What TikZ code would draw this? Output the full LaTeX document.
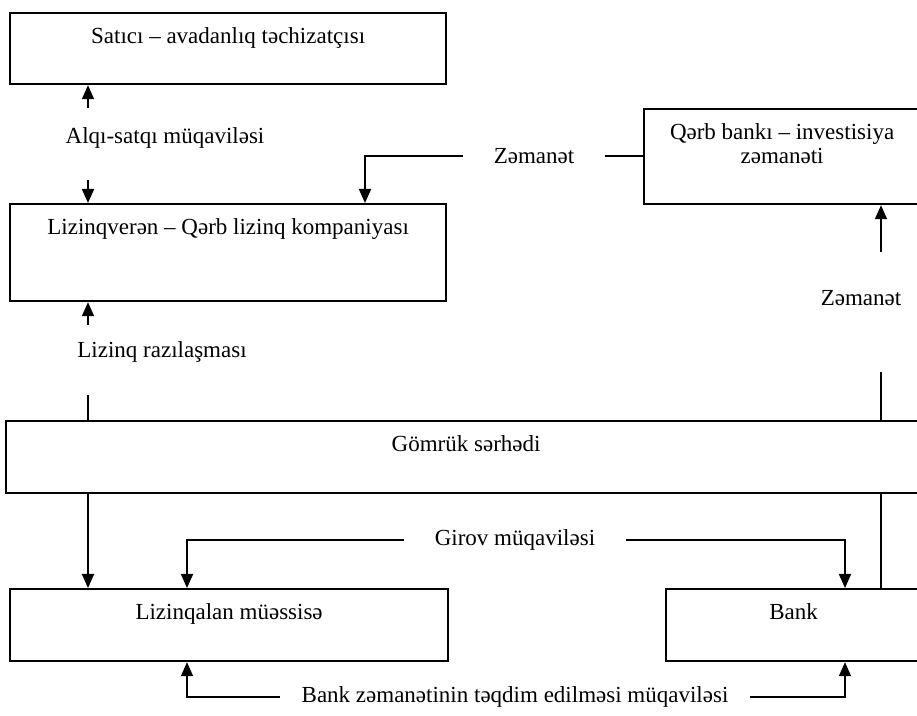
\documentclass[tikz,border=0pt]{standalone}
\usepackage{fontspec}
\setmainfont{Liberation Serif}
\usetikzlibrary{arrows.meta, positioning}

\begin{document}
\begin{tikzpicture}[x=0.5pt, y=-0.5pt,
    font=\fontsize{11.5}{12}\selectfont,
    box/.style = {draw, line width=1.1pt, anchor=north west, align=center,
                  inner xsep=0pt, inner ysep=0pt, text height=15pt},
    tag/.style = {inner xsep=15pt, inner ysep=2pt},
    link/.style = {line width=0.9pt},
    arr/.style = {link, -{Triangle[length=7pt, width=6pt]}} ]

\useasboundingbox (0,0) rectangle (917,716);
\clip (0,0) rectangle (917,716);

% boxes
\node (sel)  [box, minimum width=218pt, text depth=20.5pt] at (9,12)    {Satıcı – avadanlıq təchizatçısı};
\node (lzv)  [box, minimum width=218pt, text depth=33.5pt] at (9,203)   {Lizinqverən – Qərb lizinq kompaniyası};
\node (qrb)  [box, minimum width=138pt, text height=27pt, text depth=20.5pt] at (643,108) {Qərb bankı – investisiya\\ zəmanəti};
\node (gmr)  [box, minimum width=460pt, text depth=21pt]   at (5,420)   {Gömrük sərhədi};
\node (lzq)  [box, minimum width=219pt, text depth=21pt]   at (9,588)   {Lizinqalan müəssisə};
\node (bank) [box, minimum width=127.5pt, text depth=21pt] at (665,588) {Bank};

% labels on the links
\node (alq) [tag] at (165,138) {Alqı-satqı müqaviləsi};
\node (lzr) [tag] at (162,352) {Lizinq razılaşması};
\node (zm1) [tag] at (534,156) {Zəmanət};
\node (zm2) [tag] at (861,298) {Zəmanət};
\node (gir) [tag] at (515,540) {Girov müqaviləsi};
\node (bzm) [tag, inner xsep=10.5pt] at (515,697) {Bank zəmanətinin təqdim edilməsi müqaviləsi};

% loose ends of the vertical links
\coordinate (c1) at (88,108);
\coordinate (c2) at (88,180);
\coordinate (c3) at (88,325);
\coordinate (c4) at (88,395);
\coordinate (c5) at (881,252);
\coordinate (c6) at (881,372);

\draw[arr]  (c1) -- (c1 |- sel.south);
\draw[arr]  (c2) -- (c2 |- lzv.north);
\draw[arr]  (c3) -- (c3 |- lzv.south);
\draw[link] (c4) -- (c4 |- gmr.north);
\draw[arr]  (c4 |- gmr.south) -- (c4 |- lzq.north);
\draw[arr]  (c5) -- (c5 |- qrb.south);
\draw[link] (c6) -- (c6 |- gmr.north);
\draw[link] (c6 |- gmr.south) -- (c6 |- bank.north);

\draw[link] (zm1.east) -- (zm1.east -| qrb.west);
\draw[arr]  (zm1.west) -| ([xshift=178pt]lzv.north west);

\draw[arr]  (gir.west) -| ([xshift=89pt]lzq.north west);
\draw[arr]  (gir.east) -| ([xshift=90pt]bank.north west);
\draw[arr]  (bzm.west) -| ([xshift=89pt]lzq.south west);
\draw[arr]  (bzm.east) -| ([xshift=90pt]bank.south west);
\end{tikzpicture}
\end{document}
